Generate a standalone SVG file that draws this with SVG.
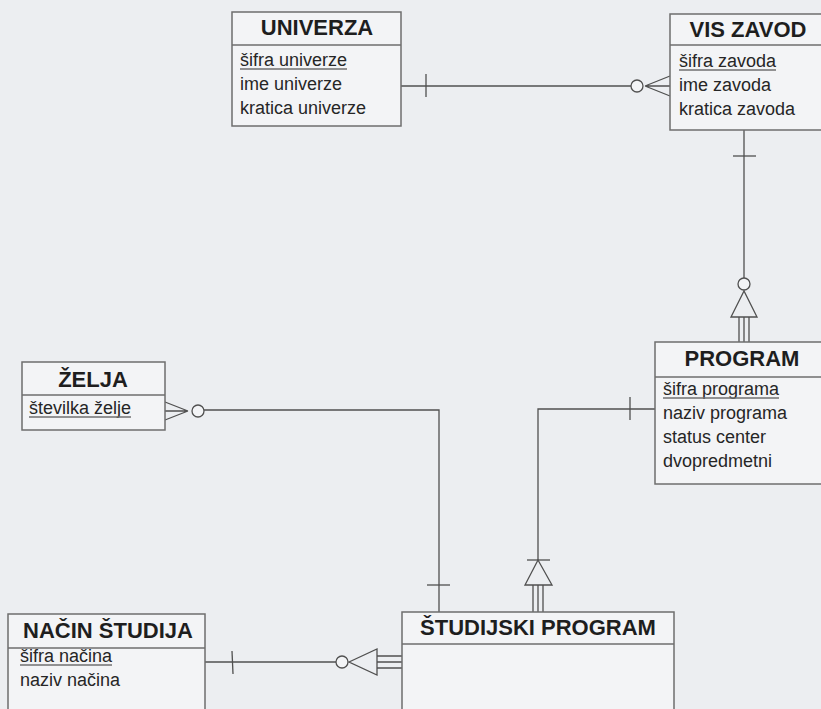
<svg xmlns="http://www.w3.org/2000/svg" width="821" height="709" viewBox="0 0 821 709">
<style>
.bg{fill:#eceef1}
.box{fill:#f3f4f6;stroke:#6e6e6e;stroke-width:1.5}
.div{stroke:#6e6e6e;stroke-width:1.5}
.hd{font-family:"Liberation Sans",Arial,sans-serif;font-weight:bold;font-size:22px;fill:#1e1e1e;text-anchor:middle}
.at{font-family:"Liberation Sans",Arial,sans-serif;font-size:18px;fill:#262626}
.ul{stroke:#707070;stroke-width:1.3}
.ln{fill:none;stroke:#505050;stroke-width:1.3}
.ci{fill:#f3f4f6;stroke:#505050;stroke-width:1.3}
</style>
<rect class="bg" x="0" y="0" width="821" height="709"/>
<g id="connectors">
  <!-- UNIVERZA - VIS ZAVOD -->
  <line class="ln" x1="401" y1="86" x2="631" y2="86"/>
  <line class="ln" x1="426" y1="74" x2="426" y2="97"/>
  <circle class="ci" cx="637" cy="86" r="6"/>
  <path class="ln" d="M645,86 L670,76 M645,86 L670,86 M645,86 L670,96"/>
  <!-- VIS ZAVOD - PROGRAM -->
  <line class="ln" x1="744" y1="130" x2="744" y2="278"/>
  <line class="ln" x1="733" y1="156" x2="756" y2="156"/>
  <circle class="ci" cx="744" cy="284" r="6"/>
  <path class="ln" d="M744,291 L731,317 L757,317 Z"/>
  <path class="ln" d="M739,317 V342 M744,317 V342 M749,317 V342"/>
  <!-- ŽELJA - ŠTUDIJSKI PROGRAM -->
  <path class="ln" d="M165,402 L188,411 M165,411 L188,411 M165,420 L188,411"/>
  <circle class="ci" cx="198" cy="411" r="6"/>
  <path class="ln" d="M204,410 H439 V612"/>
  <line class="ln" x1="427" y1="585" x2="450" y2="585"/>
  <!-- PROGRAM - ŠTUDIJSKI PROGRAM -->
  <path class="ln" d="M655,409 H538 V560"/>
  <line class="ln" x1="630" y1="397" x2="630" y2="420"/>
  <line class="ln" x1="527" y1="560" x2="550" y2="560"/>
  <path class="ln" d="M538,560 L525,585 L552,585 Z"/>
  <path class="ln" d="M533,585 V612 M538,585 V612 M543,585 V612"/>
  <!-- NAČIN ŠTUDIJA - ŠTUDIJSKI PROGRAM -->
  <line class="ln" x1="205" y1="662" x2="336" y2="662"/>
  <line class="ln" x1="232" y1="651" x2="233" y2="674"/>
  <circle class="ci" cx="342" cy="662" r="6"/>
  <path class="ln" d="M349,662 L377,649 L377,675 Z"/>
  <path class="ln" d="M377,656 H402 M377,662 H402 M377,668 H402"/>
</g>
<g id="univerza">
  <rect class="box" x="232" y="12" width="169" height="114"/>
  <line class="div" x1="232" y1="45" x2="401" y2="45"/>
  <text class="hd" x="317" y="35">UNIVERZA</text>
  <text class="at" x="240" y="66">šifra univerze</text>
  <line class="ul" x1="240" y1="69" x2="347" y2="69"/>
  <text class="at" x="240" y="90">ime univerze</text>
  <text class="at" x="240" y="114">kratica univerze</text>
</g>
<g id="vis-zavod">
  <rect class="box" x="670" y="14" width="156" height="116"/>
  <line class="div" x1="670" y1="45" x2="826" y2="45"/>
  <text class="hd" x="748" y="37">VIS ZAVOD</text>
  <text class="at" x="679" y="67">šifra zavoda</text>
  <line class="ul" x1="679" y1="70" x2="776" y2="70"/>
  <text class="at" x="679" y="91">ime zavoda</text>
  <text class="at" x="679" y="115">kratica zavoda</text>
</g>
<g id="program">
  <rect class="box" x="655" y="342" width="174" height="142"/>
  <line class="div" x1="655" y1="377" x2="829" y2="377"/>
  <text class="hd" x="742" y="366">PROGRAM</text>
  <text class="at" x="663" y="395">šifra programa</text>
  <line class="ul" x1="663" y1="398" x2="779" y2="398"/>
  <text class="at" x="663" y="419">naziv programa</text>
  <text class="at" x="663" y="443">status center</text>
  <text class="at" x="663" y="467">dvopredmetni</text>
</g>
<g id="zelja">
  <rect class="box" x="22" y="362" width="143" height="68"/>
  <line class="div" x1="22" y1="395" x2="165" y2="395"/>
  <text class="hd" x="93" y="387">ŽELJA</text>
  <text class="at" x="29" y="414">številka želje</text>
  <line class="ul" x1="29" y1="417" x2="131" y2="417"/>
</g>
<g id="nacin-studija">
  <rect class="box" x="8" y="614" width="197" height="100"/>
  <line class="div" x1="8" y1="648" x2="205" y2="648"/>
  <text class="hd" x="108" y="638">NAČIN ŠTUDIJA</text>
  <text class="at" x="20" y="662">šifra načina</text>
  <line class="ul" x1="20" y1="665" x2="112" y2="665"/>
  <text class="at" x="20" y="686">naziv načina</text>
</g>
<g id="studijski-program">
  <rect class="box" x="402" y="612" width="272" height="102"/>
  <line class="div" x1="402" y1="644" x2="674" y2="644"/>
  <text class="hd" x="538" y="635">ŠTUDIJSKI PROGRAM</text>
</g>
</svg>
